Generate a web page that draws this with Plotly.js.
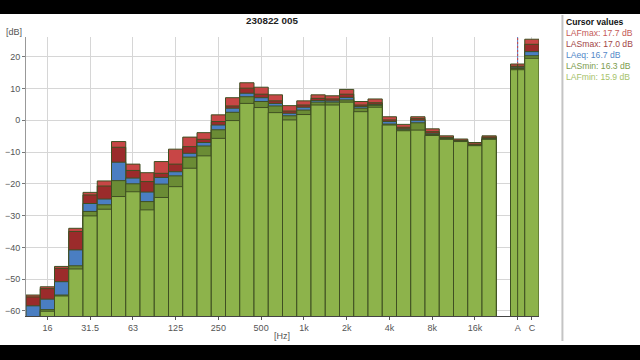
<!DOCTYPE html>
<html>
<head>
<meta charset="utf-8">
<script src="https://cdn.plot.ly/plotly-3.0.1.min.js"></script>
<style>
  html, body { margin:0; padding:0; background:#000; width:640px; height:360px; overflow:hidden; }
  #chart { position:absolute; left:0; top:14px; width:640px; height:331px; background:#fff; }
</style>
</head>
<body>
<div id="chart"></div>
<script>
// ---- Data ----
const bands = ["12.5","16","20","25","31.5","40","50","63","80","100","125","160","200","250","315","400","500","630","800","1k","1.25k","1.6k","2k","2.5k","3.15k","4k","5k","6.3k","8k","10k","12.5k","16k","20k"];
const totals = ["A","C"];
const tickLabels = ["16","31.5","63","125","250","500","1k","2k","4k","8k","16k","A","C"];

const LAFmax = [-55.0,-52.4,-46.0,-34.0,-22.7,-19.1,-6.7,-13.8,-16.5,-13.0,-9.1,-5.3,-3.9,1.7,7.1,11.8,10.4,8.0,4.6,6.1,8.0,7.7,9.7,5.9,6.7,1.1,-1.3,1.1,-2.7,-4.9,-5.9,-7.0,-4.9, 17.7,25.5];
const LASmax = [-55.6,-53.0,-46.6,-35.0,-23.5,-20.7,-8.5,-15.8,-19.3,-16.7,-13.8,-8.3,-6.0,-0.4,4.5,10.1,8.2,6.1,2.9,4.8,6.9,6.7,8.2,4.8,5.5,0.1,-2.2,0.5,-3.6,-5.4,-6.3,-7.5,-5.3, 17.0,23.9];
const LAeq   = [-58.4,-56.3,-50.8,-40.8,-26.2,-24.8,-13.2,-18.2,-22.6,-18.0,-16.2,-10.4,-7.0,-1.5,3.8,8.5,7.1,5.3,2.2,4.1,6.2,6.1,7.2,4.3,5.0,-0.4,-2.7,0.0,-4.1,-5.7,-6.5,-7.8,-5.7, 16.7,21.6];
const LASmin = [-63.0,-59.6,-55.0,-45.8,-28.7,-26.6,-19.0,-20.0,-25.6,-20.1,-17.5,-11.6,-8.1,-3.0,2.5,7.4,5.9,4.5,1.4,3.2,5.7,5.7,6.4,3.8,4.7,-1.2,-3.0,-0.8,-4.5,-5.9,-6.6,-7.9,-5.9, 16.3,20.3];
const LAFmin = [-63.0,-60.1,-55.3,-46.8,-30.1,-28.0,-24.0,-22.5,-28.2,-24.3,-20.9,-15.1,-11.2,-5.7,-0.1,5.3,4.0,2.4,0.1,1.8,4.8,4.8,5.7,2.7,4.1,-1.5,-3.3,-3.1,-4.8,-6.0,-6.7,-8.0,-6.0, 15.9,19.5];

// ---- Layout helpers ----
const categories = bands.concat(totals);
// positions: bands contiguous, one empty slot, then A and C
const xpos = categories.map((c, i) => i < bands.length ? i : i + 1);
const yMin = -61.6, yMax = 26.2, barBase = -70;

const series = [
  {name:"LAFmax", v:LAFmax, color:"#c84646", text:"#c45a57"},
  {name:"LASmax", v:LASmax, color:"#9b2b2b", text:"#a24646"},
  {name:"LAeq",   v:LAeq,   color:"#4a7ec2", text:"#5288c8"},
  {name:"LASmin", v:LASmin, color:"#6b8c35", text:"#7c9c4e"},
  {name:"LAFmin", v:LAFmin, color:"#8db34b", text:"#a6c26a"}
];

const traces = series.map(s => ({
  type:"bar",
  name:s.name,
  x:xpos,
  y:s.v.map(v => v - barBase),
  base:barBase,
  width:1,
  marker:{color:s.color, line:{color:"#3f4f22", width:1}},
  hoverinfo:"skip"
}));

const tickvals = tickLabels.map(t => xpos[categories.indexOf(t)]);
const aIdx = categories.indexOf("A");
const axisFont = {family:"Liberation Sans, Arial, sans-serif", size:9, color:"#555"};

// paper y for a page pixel (plot area spans page y 37..316)
const py = p => (316 - p) / 279;
const px = p => (p - 26) / 512.6;

const annotations = [
  {text:"[dB]", xref:"paper", yref:"paper", x:px(14.5), y:py(32), showarrow:false, xanchor:"center", yanchor:"middle", font:axisFont},
  {text:"[Hz]", xref:"paper", yref:"paper", x:px(281.5), y:py(336), showarrow:false, xanchor:"center", yanchor:"middle", font:axisFont},
  {text:"<b>Cursor values</b>", xref:"paper", yref:"paper", x:px(563.5), y:py(22), showarrow:false, xanchor:"left", yanchor:"middle",
   font:{family:"Liberation Sans, Arial, sans-serif", size:8.6, color:"#111"}}
];
series.forEach((s, k) => {
  annotations.push({
    text: s.name + ": " + s.v[aIdx].toFixed(1) + " dB",
    xref:"paper", yref:"paper", x:px(563.5), y:py(33 + 11*k), showarrow:false, xanchor:"left", yanchor:"middle",
    font:{family:"Liberation Sans, Arial, sans-serif", size:8.6, color:s.text}
  });
});

const shapes = [
  // right panel separator
  {type:"line", xref:"paper", yref:"paper", x0:px(562), x1:px(562), y0:py(15), y1:py(341), line:{color:"#c4c4c4", width:2}},
  // cursor line above A bar: blue under, red dashes over
  {type:"line", xref:"x", yref:"y", x0:xpos[aIdx], x1:xpos[aIdx], y0:LAFmax[aIdx], y1:yMax, line:{color:"#5a7fc8", width:1}, layer:"above"},
  {type:"line", xref:"x", yref:"y", x0:xpos[aIdx], x1:xpos[aIdx], y0:LAFmax[aIdx], y1:yMax, line:{color:"#c84646", width:1, dash:"2px,2px"}, layer:"above"},
  // cursor line inside A bar
  {type:"line", xref:"x", yref:"y", x0:xpos[aIdx], x1:xpos[aIdx], y0:yMin, y1:LAFmax[aIdx], line:{color:"#3f4f22", width:1}, layer:"above"}
];

const layout = {
  width:640, height:331,
  margin:{l:26, r:101.4, t:23, b:29, pad:0},
  paper_bgcolor:"#ffffff", plot_bgcolor:"#ffffff",
  barmode:"overlay", bargap:0,
  showlegend:false,
  title:{text:"<b>230822 005</b>", xref:"container", yref:"container", x:272/640, y:1 - 7/331, xanchor:"center", yanchor:"middle",
         font:{family:"Liberation Sans, Arial, sans-serif", size:9.8, color:"#222"}},
  xaxis:{
    range:[-0.5, xpos[xpos.length-1] + 0.5],
    tickmode:"array", tickvals:tickvals, ticktext:tickLabels,
    showgrid:true, gridcolor:"#d6d6d6", gridwidth:1,
    ticks:"outside", ticklen:3, tickcolor:"#555",
    showline:true, linecolor:"#444", linewidth:1,
    zeroline:false, tickfont:axisFont, fixedrange:true
  },
  yaxis:{
    range:[yMin, yMax],
    tickmode:"linear", tick0:0, dtick:10,
    showgrid:true, gridcolor:"#d6d6d6", gridwidth:1,
    ticks:"outside", ticklen:3, tickcolor:"#777",
    showline:true, linecolor:"#999", linewidth:1,
    zeroline:false, tickfont:axisFont, fixedrange:true
  },
  annotations:annotations,
  shapes:shapes
};

Plotly.newPlot("chart", traces, layout, {displayModeBar:false, staticPlot:true});
</script>
</body>
</html>
